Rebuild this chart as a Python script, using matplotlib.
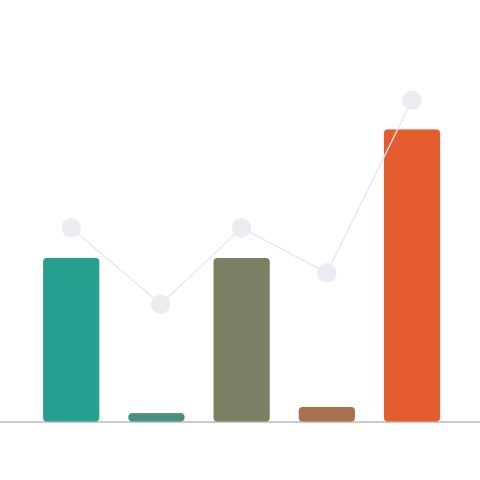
import matplotlib
matplotlib.use("Agg")
import matplotlib.pyplot as plt
from matplotlib.patches import FancyBboxPatch

# bar series (scaled so the tallest bar is 100)
categories = ["A", "B", "C", "D", "E"]
bar_values = [56, 2.9, 56, 5, 100]
bar_colors = ["#279F8E", "#4A9080", "#7C7F64", "#A8714E", "#E55D2E"]

# line series
line_x = [0, 1.05, 2, 3, 4]
line_values = [66.3, 40.2, 66.3, 50.9, 110]

fig = plt.figure(figsize=(4.8, 4.8), dpi=100)
ax = fig.add_axes([0, 0, 1, 1])
ax.set_xlim(-0.836, 4.798)
ax.set_ylim(-20.0, 144.3)
ax.axis("off")

# px per unit, used to keep the corner rounding circular
px_x = 480 / (4.798 + 0.836)
px_y = 480 / (144.3 + 20.0)
aspect = px_x / px_y

width = 0.66
for i, (v, c) in enumerate(zip(bar_values, bar_colors)):
    r = min(4 / px_x, v / aspect / 2)
    box = FancyBboxPatch((i - width / 2, 0), width, v,
                         boxstyle=f"round,pad=0,rounding_size={r}",
                         mutation_aspect=aspect, facecolor=c, edgecolor="none", zorder=2)
    ax.add_patch(box)

ax.axhline(0, color="#cccccc", lw=1.5, zorder=1)

ax.plot(line_x, line_values, color="#e8e8f0", lw=1, zorder=3)
ax.scatter(line_x, line_values, s=190, color="#ebebf2", edgecolors="none", zorder=4)

fig.savefig("out.png", dpi=100, facecolor="white")
